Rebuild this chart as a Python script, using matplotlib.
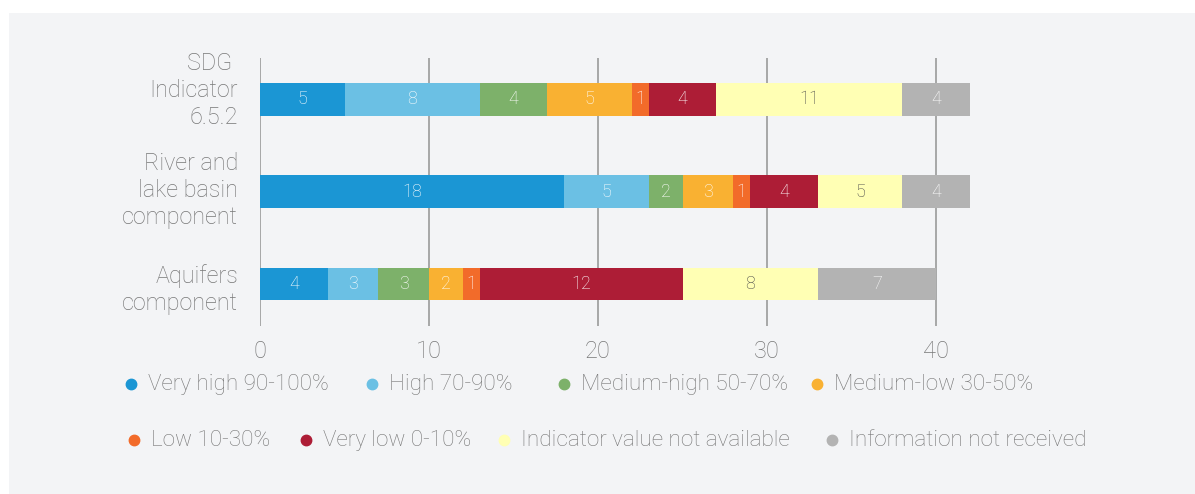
import matplotlib
matplotlib.use("Agg")
import matplotlib.pyplot as plt
import matplotlib.transforms as mtransforms
from matplotlib.patches import Rectangle
from matplotlib.lines import Line2D

plt.rcParams['font.family'] = ['Roboto', 'DejaVu Sans']

categories = ["SDG \nIndicator\n6.5.2", "River and\nlake basin\ncomponent", "Aquifers\ncomponent"]
series_names = ["Very high 90-100%", "High 70-90%", "Medium-high 50-70%", "Medium-low 30-50%",
                "Low 10-30%", "Very low 0-10%", "Indicator value not available", "Information not received"]
values = [
    [5, 18, 4],
    [8, 5, 3],
    [4, 2, 3],
    [5, 3, 2],
    [1, 1, 1],
    [4, 4, 12],
    [11, 5, 8],
    [4, 4, 7],
]
colors = ["#1b96d4", "#6bc0e4", "#7db16a", "#f9b132", "#f26b2a", "#ad1d36", "#ffffb4", "#b3b3b3"]
label_colors = ["white", "white", "white", "white", "white", "white", "#4a4a4a", "white"]
xticks = [0, 10, 20, 30, 40]

W, H = 1195, 494
fig = plt.figure(figsize=(W / 100, H / 100), dpi=100)
fig.patch.set_facecolor("white")
fig.patches.append(Rectangle((9 / W, 0), 1 - 9 / W, 1 - 13 / H, transform=fig.transFigure,
                             facecolor="#f3f4f6", edgecolor="none", zorder=-5))

ax = fig.add_axes([260 / W, 1 - 326 / H, 44 * 16.9 / W, (326 - 58) / H])
ax.set_facecolor("none")
ax.set_xlim(0, 44)
ax.set_ylim(2.46, -0.45)

gray = "#777777"
ypos = list(range(len(categories)))
left = [0] * len(categories)
for vals, col, lc in zip(values, colors, label_colors):
    bars = ax.barh(ypos, vals, left=left, height=0.35, color=col, edgecolor="none", zorder=3)
    for b, v in zip(bars, vals):
        ax.text(b.get_x() + b.get_width() / 2, b.get_y() + b.get_height() / 2, str(v),
                ha="center", va="center", color=lc, fontsize=13, fontweight="light", zorder=4)
    left = [l + v for l, v in zip(left, vals)]

ax.set_xticks(xticks)
ax.set_xticklabels([str(t) for t in xticks])
ax.set_yticks(ypos)
ax.set_yticklabels([])
ax.tick_params(axis="x", length=0, pad=10, labelsize=17, labelcolor=gray)
ax.tick_params(axis="y", length=0)
for lab in ax.get_xticklabels():
    lab.set_fontweight("light")

# category labels (right-aligned, slight vertical offsets as in the reference)
label_offsets_px = [9, 1, -6]
for y, cat, off in zip(ypos, categories, label_offsets_px):
    tr = ax.get_yaxis_transform() + mtransforms.ScaledTranslation(-22 / 100, off / 100, fig.dpi_scale_trans)
    ax.text(0, y, cat, transform=tr, ha="right", va="center", multialignment="right",
            fontsize=16.8, color=gray, linespacing=1.2, fontweight="light")

ax.grid(axis="x", color="#9a9a9a", linewidth=1.2, zorder=1)
ax.grid(axis="y", visible=False)
for s in ax.spines.values():
    s.set_visible(False)

# legend: flow layout, two rows
marker_x = [131, 372, 564, 817, 134, 306, 504, 832]
row_y = [384, 384, 384, 384, 440, 440, 440, 440]
for name, col, mx, my in zip(series_names, colors, marker_x, row_y):
    fig.lines.append(Line2D([mx / W], [1 - my / H], transform=fig.transFigure, marker="o",
                            markersize=7.5, color=col, linestyle="none"))
    fig.text((mx + 17) / W, 1 - my / H, name, ha="left", va="center", fontsize=16.2,
             color=gray, fontweight="light")

fig.savefig("out.png", dpi=100, facecolor=fig.get_facecolor())
